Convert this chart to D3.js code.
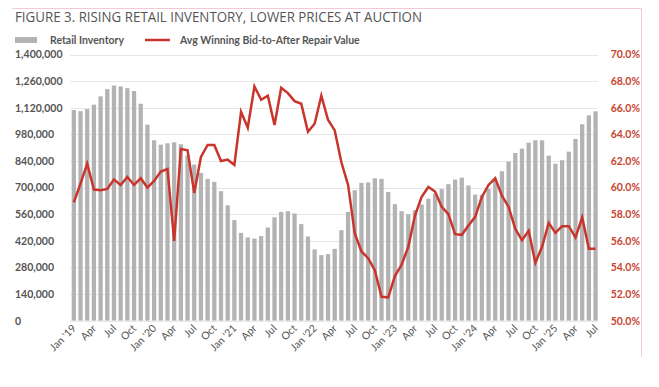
<!DOCTYPE html>
<html>
<head>
<meta charset="utf-8">
<title>Figure 3</title>
<script src="https://d3js.org/d3.v7.min.js"></script>
<style>
  body { margin: 0; background: #fff; }
  svg { display: block; }
  text { font-family: Lato, "Open Sans", sans-serif; }
  .title { font-family: "Open Sans", sans-serif; font-weight: 400; font-size: 15px; fill: #555; }
  .legend text { font-size: 10.5px; font-weight: 700; fill: #555; }
  .yleft text { font-size: 10.5px; font-weight: 700; fill: #555; }
  .yright text { font-size: 10.5px; font-weight: 700; fill: #c8452f; }
  .xlab text { font-size: 10.5px; fill: #555; }
</style>
</head>
<body>
<div id="chart"></div>
<script>
// months Jan 2019 .. Jul 2025
var months = [
  'Jan 19','Feb 19','Mar 19','Apr 19','May 19','Jun 19','Jul 19','Aug 19','Sep 19','Oct 19','Nov 19','Dec 19',
  'Jan 20','Feb 20','Mar 20','Apr 20','May 20','Jun 20','Jul 20','Aug 20','Sep 20','Oct 20','Nov 20','Dec 20',
  'Jan 21','Feb 21','Mar 21','Apr 21','May 21','Jun 21','Jul 21','Aug 21','Sep 21','Oct 21','Nov 21','Dec 21',
  'Jan 22','Feb 22','Mar 22','Apr 22','May 22','Jun 22','Jul 22','Aug 22','Sep 22','Oct 22','Nov 22','Dec 22',
  'Jan 23','Feb 23','Mar 23','Apr 23','May 23','Jun 23','Jul 23','Aug 23','Sep 23','Oct 23','Nov 23','Dec 23',
  'Jan 24','Feb 24','Mar 24','Apr 24','May 24','Jun 24','Jul 24','Aug 24','Sep 24','Oct 24','Nov 24','Dec 24',
  'Jan 25','Feb 25','Mar 25','Apr 25','May 25','Jun 25','Jul 25'
]

var inventory = [
  1108000,1102000,1113000,1136000,1180000,1218000,1237000,1232000,1223000,1208000,1141000,1031000,
  949000,926000,933000,938000,928000,870000,821000,777000,746000,730000,681000,607000,
  529000,462000,438000,432000,445000,490000,544000,572000,576000,564000,508000,443000,
  375000,345000,350000,378000,476000,572000,686000,725000,727000,749000,746000,677000,
  613000,576000,560000,581000,611000,642000,669000,692000,718000,742000,752000,711000,
  663000,662000,693000,740000,786000,837000,882000,905000,936000,949000,949000,868000,
  826000,844000,889000,956000,1033000,1080000,1101000
]

var bidRatio = [
  58.9,60.3,61.8,59.85,59.8,59.9,60.6,60.2,60.8,60.2,60.7,60.0,
  60.5,61.2,61.4,56.0,62.9,62.8,59.6,62.3,63.2,63.2,62.0,62.1,
  61.7,65.7,64.5,67.6,66.6,66.9,64.7,67.5,67.1,66.5,66.3,64.2,
  64.8,66.9,65.1,64.3,61.9,60.2,56.55,55.2,54.7,53.8,51.8,51.75,
  53.35,54.2,55.55,57.9,59.3,60.05,59.7,58.55,58.0,56.5,56.45,57.15,
  57.8,59.3,60.2,60.7,59.4,58.55,56.9,56.05,56.75,54.35,55.55,57.35,
  56.6,57.1,57.1,56.25,57.75,55.4,55.4
]

var tickLabels = [
  "Jan '19",'Apr','Jul','Oct',"Jan '20",'Apr','Jul','Oct',"Jan '21",'Apr','Jul','Oct',
  "Jan '22",'Apr','Jul','Oct',"Jan '23",'Apr','Jul','Oct',"Jan '24",'Apr','Jul','Oct',
  "Jan '25",'Apr','Jul'
]

var leftTicks = [0,140000,280000,420000,560000,700000,840000,980000,1120000,1260000,1400000]
var rightTicks = [50,52,54,56,58,60,62,64,66,68,70]

const width = 659
const height = 387

var svg = d3.select('#chart').append('svg')
  .attr('width', width)
  .attr('height', height)

// pink frame lines
svg.append('line').attr('x1', 12).attr('x2', 641.5).attr('y1', 8.5).attr('y2', 8.5)
  .style('stroke', '#f3c9d8').style('stroke-width', 1)
svg.append('line').attr('x1', 641.5).attr('x2', 641.5).attr('y1', 8.5).attr('y2', 357)
  .style('stroke', '#f3c9d8').style('stroke-width', 1)

svg.append('text').attr('class', 'title')
  .attr('x', 15).attr('y', 22)
  .attr('textLength', 407).attr('lengthAdjust', 'spacingAndGlyphs')
  .text('FIGURE 3. RISING RETAIL INVENTORY, LOWER PRICES AT AUCTION')

// legend
var leg = svg.append('g').attr('class', 'legend')
leg.append('rect').attr('x', 15).attr('y', 37).attr('width', 22).attr('height', 6).style('fill', '#b3b3b3')
leg.append('text').attr('x', 50).attr('y', 44).text('Retail Inventory')
leg.append('line').attr('x1', 145).attr('x2', 170).attr('y1', 40).attr('y2', 40)
  .style('stroke', '#c9342b').style('stroke-width', 2.5)
leg.append('text').attr('x', 180).attr('y', 44).text('Avg Winning Bid-to-After Repair Value')

var plotL = 70, plotR = 598, plotT = 54.5, plotB = 320.7

var x = d3.scaleBand()
  .domain(months)
  .range([71.7, 597.7])
  .paddingInner(0.36)
  .paddingOuter(0)

var yL = d3.scaleLinear().domain([0, 1400000]).range([plotB, plotT])
var yR = d3.scaleLinear().domain([50, 70]).range([plotB, plotT])

// gridlines
svg.append('g').selectAll('line')
  .data(leftTicks.slice(1))
  .enter().append('line')
  .attr('x1', plotL).attr('x2', plotR)
  .attr('y1', d => Math.round(yL(d)) + 0.5).attr('y2', d => Math.round(yL(d)) + 0.5)
  .style('stroke', '#e6e6e6').style('stroke-width', 1)

// left axis
var gl = svg.append('g').attr('class', 'yleft')
  .call(d3.axisLeft(yL).tickValues(leftTicks).tickFormat(d3.format(',')).tickSize(0))
gl.select('.domain').remove()
gl.selectAll('text').attr('text-anchor', 'start').attr('x', 15)

// right axis
var gr = svg.append('g').attr('class', 'yright')
  .attr('transform', 'translate(640,0)')
  .call(d3.axisRight(yR).tickValues(rightTicks).tickFormat(d => d.toFixed(1) + '%').tickSize(0))
gr.select('.domain').remove()
gr.selectAll('text').attr('text-anchor', 'end').attr('x', 0)

// bars
svg.append('g').selectAll('rect')
  .data(inventory)
  .enter().append('rect')
  .attr('x', (d, i) => x(months[i]))
  .attr('width', x.bandwidth())
  .attr('y', d => yL(d))
  .attr('height', d => plotB - yL(d))
  .style('fill', '#b3b3b3')

// baseline
svg.append('line').attr('x1', plotL).attr('x2', plotR)
  .attr('y1', plotB + 0.5).attr('y2', plotB + 0.5)
  .style('stroke', '#e0e0e0')

// line
var valueline = d3.line()
  .x((d, i) => x(months[i]) + x.bandwidth() / 2)
  .y(d => yR(d))

svg.append('path')
  .datum(bidRatio)
  .attr('d', valueline)
  .style('fill', 'none')
  .style('stroke', '#c9342b')
  .style('stroke-width', 2.5)
  .style('stroke-linejoin', 'miter')

// x labels
var tickMonths = months.filter((m, i) => i % 3 === 0)
var gx = svg.append('g').attr('class', 'xlab')
gx.selectAll('text')
  .data(tickMonths)
  .enter().append('text')
  .attr('text-anchor', 'end')
  .attr('transform', d => 'translate(' + (x(d) + x.bandwidth() / 2 + 3) + ',' + 329 + ') rotate(-45)')
  .text((d, i) => tickLabels[i])
</script>
</body>
</html>
